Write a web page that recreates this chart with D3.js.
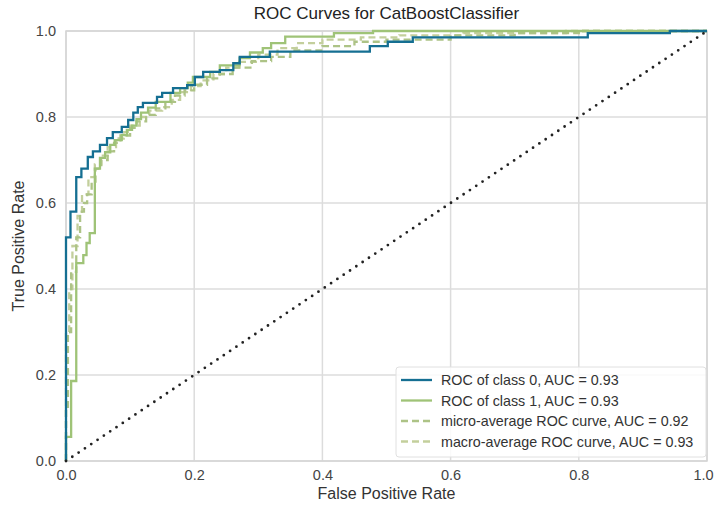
<!DOCTYPE html>
<html><head><meta charset="utf-8">
<script src="https://cdn.jsdelivr.net/npm/d3@7"></script>
<style>body{margin:0;background:#fff}svg{display:block}</style>
</head><body><svg id="c" width="716" height="508"></svg>
<script>
const title = "ROC Curves for CatBoostClassifier";
const xLabel = "False Positive Rate";
const yLabel = "True Positive Rate";
const ticks = [0, 0.2, 0.4, 0.6, 0.8, 1.0];

const class0 = [[0,0],[0,0.52],[0.007,0.58],[0.016,0.66],[0.024,0.68],[0.034,0.707],[0.042,0.72],[0.053,0.735],[0.064,0.751],[0.073,0.765],[0.087,0.777],[0.097,0.793],[0.105,0.81],[0.112,0.823],[0.12,0.833],[0.142,0.847],[0.15,0.856],[0.167,0.867],[0.189,0.874],[0.201,0.893],[0.214,0.905],[0.24,0.909],[0.261,0.925],[0.271,0.94],[0.318,0.952],[0.474,0.965],[0.502,0.975],[0.541,0.985],[0.814,0.995],[0.942,1.0],[1,1]];
const class1 = [[0,0],[0,0.056],[0.008,0.186],[0.016,0.46],[0.027,0.479],[0.032,0.507],[0.037,0.53],[0.045,0.68],[0.053,0.705],[0.061,0.718],[0.069,0.735],[0.076,0.746],[0.087,0.758],[0.095,0.77],[0.103,0.78],[0.11,0.795],[0.117,0.81],[0.128,0.822],[0.14,0.835],[0.163,0.856],[0.178,0.867],[0.19,0.88],[0.198,0.893],[0.225,0.905],[0.24,0.92],[0.271,0.937],[0.287,0.95],[0.307,0.96],[0.32,0.972],[0.342,0.987],[0.418,0.995],[0.479,1.0],[1,1]];
const microAvg = [[0,0],[0,0.12],[0.003,0.3],[0.008,0.44],[0.016,0.52],[0.022,0.58],[0.028,0.6],[0.033,0.62],[0.04,0.65],[0.046,0.68],[0.055,0.7],[0.065,0.72],[0.075,0.74],[0.085,0.757],[0.1,0.775],[0.11,0.79],[0.125,0.805],[0.14,0.82],[0.155,0.835],[0.17,0.85],[0.185,0.862],[0.2,0.875],[0.22,0.89],[0.24,0.9],[0.26,0.915],[0.29,0.93],[0.32,0.94],[0.35,0.955],[0.4,0.965],[0.45,0.975],[0.5,0.98],[0.6,0.99],[0.7,0.995],[0.8,1.0],[1,1]];
const macroAvg = [[0,0],[0,0.3],[0.005,0.4],[0.01,0.5],[0.018,0.57],[0.025,0.62],[0.035,0.66],[0.045,0.69],[0.055,0.71],[0.065,0.73],[0.078,0.75],[0.09,0.765],[0.1,0.78],[0.115,0.8],[0.13,0.815],[0.15,0.823],[0.165,0.84],[0.178,0.858],[0.195,0.872],[0.21,0.885],[0.23,0.9],[0.25,0.915],[0.27,0.928],[0.3,0.945],[0.33,0.96],[0.36,0.972],[0.4,0.98],[0.46,0.985],[0.52,0.99],[0.62,0.995],[0.78,1.0],[1,1]];

const series = [
  {name:"ROC of class 0, AUC = 0.93", data:class0, color:"#156f92", dash:null},
  {name:"ROC of class 1, AUC = 0.93", data:class1, color:"#9fc377", dash:null},
  {name:"micro-average ROC curve, AUC = 0.92", data:microAvg, color:"#adc386", dash:"7,4"},
  {name:"macro-average ROC curve, AUC = 0.93", data:macroAvg, color:"#c3cf9c", dash:"7,4"}
];

const svg = d3.select("#c");
const m = {l:66, r:707, t:31, b:461};
const x = d3.scaleLinear().domain([0,1]).range([m.l, m.r]);
const y = d3.scaleLinear().domain([0,1]).range([m.b, m.t]);
const font = "'Liberation Sans', Arial, sans-serif";

// grid
const g = svg.append("g");
g.selectAll(".gx").data(ticks).join("line")
  .attr("x1", d=>x(d)).attr("x2", d=>x(d)).attr("y1", m.t).attr("y2", m.b)
  .attr("stroke", "#dcdcdc").attr("stroke-width", 1.5);
g.selectAll(".gy").data(ticks).join("line")
  .attr("y1", d=>y(d)).attr("y2", d=>y(d)).attr("x1", m.l).attr("x2", m.r)
  .attr("stroke", "#dcdcdc").attr("stroke-width", 1.5);
svg.append("rect").attr("x", m.l).attr("y", m.t).attr("width", m.r-m.l).attr("height", m.b-m.t)
  .attr("fill", "none").attr("stroke", "#d5d5d5").attr("stroke-width", 1.5);

// axes (tick labels only)
const xAxis = svg.append("g").attr("transform", `translate(0,${m.b})`)
  .call(d3.axisBottom(x).tickValues(ticks).tickFormat(d3.format(".1f")).tickSize(0).tickPadding(9));
const yAxis = svg.append("g").attr("transform", `translate(${m.l},0)`)
  .call(d3.axisLeft(y).tickValues(ticks).tickFormat(d3.format(".1f")).tickSize(0).tickPadding(10));
[xAxis, yAxis].forEach(a => {
  a.select(".domain").remove();
  a.selectAll("text").attr("font-family", font).attr("font-size", 14.5).attr("fill", "#444");
});
xAxis.selectAll(".tick").filter(d => d === 1).select("text").attr("dx", -4);

// curves
svg.append("clipPath").attr("id","clp").append("rect")
  .attr("x", m.l-2).attr("y", m.t-2).attr("width", m.r-m.l+4).attr("height", m.b-m.t+4);
const line = d3.line().x(d=>x(d[0])).y(d=>y(d[1])).curve(d3.curveStepAfter);
const lines = svg.append("g").attr("clip-path","url(#clp)");
series.slice().reverse().forEach(s => {
  lines.append("path").attr("d", line(s.data)).attr("fill","none")
    .attr("stroke", s.color).attr("stroke-width", 2.3)
    .attr("stroke-dasharray", s.dash);
});
// diagonal
lines.append("line").attr("x1", x(0)).attr("y1", y(0)).attr("x2", x(1)).attr("y2", y(1))
  .attr("stroke", "#222").attr("stroke-width", 2.8).attr("stroke-linecap","round")
  .attr("stroke-dasharray", "0,7.6");

// title & labels
svg.append("text").attr("x", (m.l+m.r)/2).attr("y", 19).attr("text-anchor","middle")
  .attr("font-family", font).attr("font-size", 17).attr("fill","#222").text(title);
svg.append("text").attr("x", (m.l+m.r)/2).attr("y", 499).attr("text-anchor","middle")
  .attr("font-family", font).attr("font-size", 16).attr("fill","#333").text(xLabel);
svg.append("text").attr("transform", `translate(24,${(m.t+m.b)/2}) rotate(-90)`).attr("text-anchor","middle")
  .attr("font-family", font).attr("font-size", 16).attr("fill","#333").text(yLabel);

// legend
const lg = svg.append("g").attr("transform","translate(396,367)");
lg.append("rect").attr("width", 310).attr("height", 90).attr("rx", 3)
  .attr("fill","rgba(255,255,255,0.85)").attr("stroke","#e0e0e0").attr("stroke-width",1);
series.forEach((s,i) => {
  const yy = 13 + i*20.5;
  lg.append("line").attr("x1", 5).attr("x2", 36).attr("y1", yy).attr("y2", yy)
    .attr("stroke", s.color).attr("stroke-width", 2.3).attr("stroke-dasharray", s.dash);
  lg.append("text").attr("x", 45).attr("y", yy+5).attr("font-family", font).attr("font-size", 14.3)
    .attr("fill","#333").text(s.name);
});
</script></body></html>
